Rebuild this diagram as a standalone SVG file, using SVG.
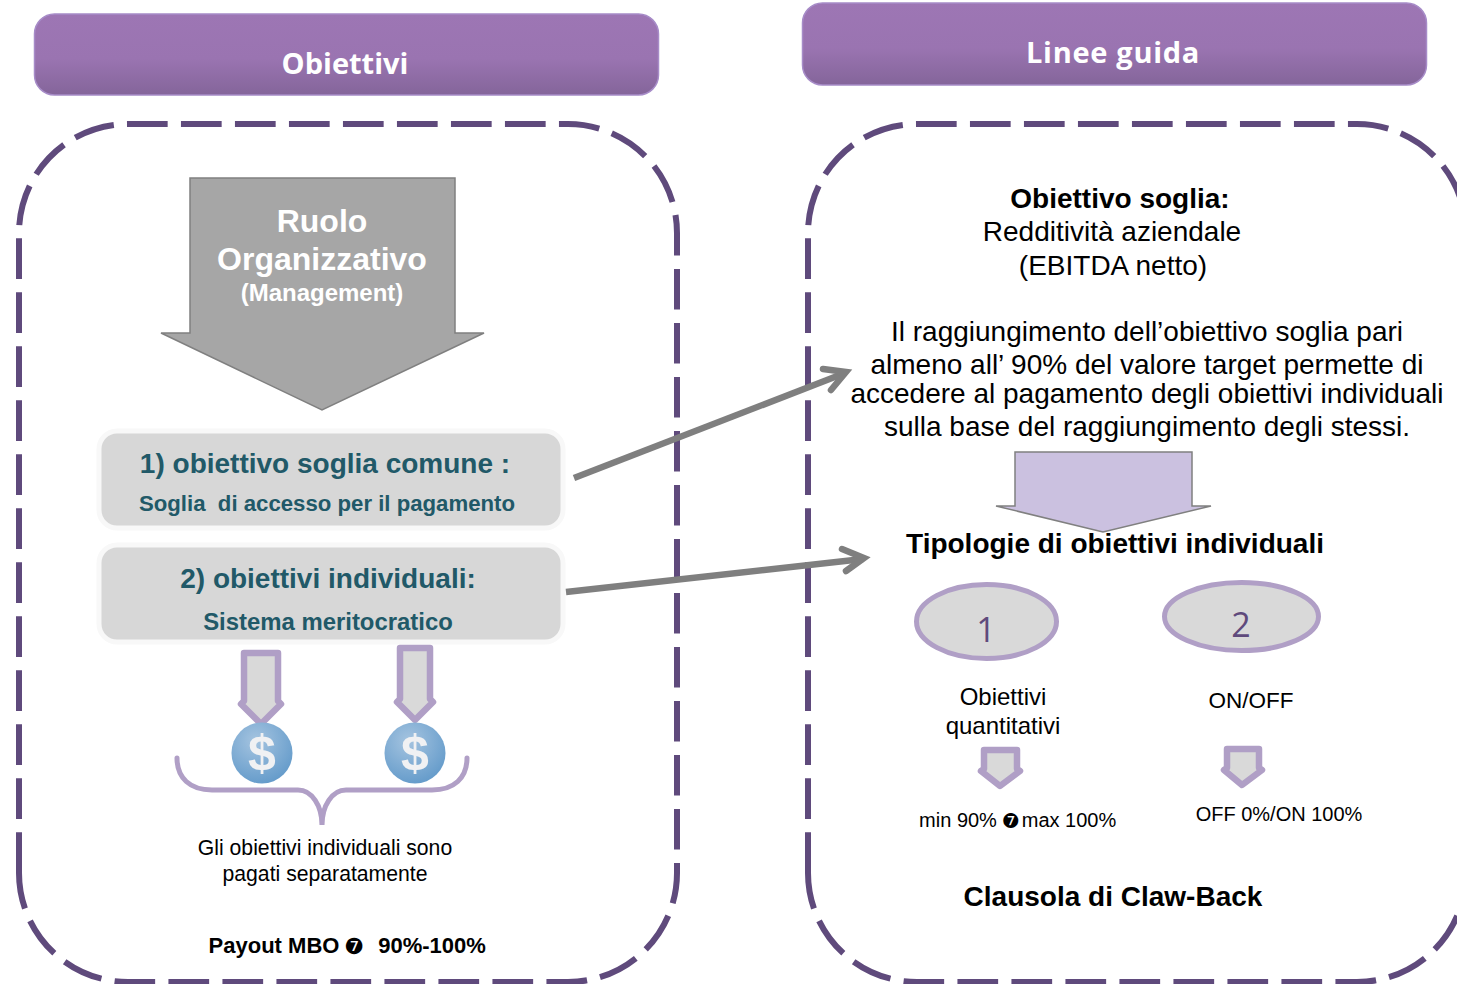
<svg xmlns="http://www.w3.org/2000/svg" width="1457" height="984" viewBox="0 0 1457 984">
<style>
text{font-family:"Liberation Sans",Arial,sans-serif;text-anchor:middle}
.hd{font-family:"Open Sans","DejaVu Sans",sans-serif;font-weight:700;font-size:29px;fill:#fff}
.dash{fill:none;stroke:#5f4a7c;stroke-width:6;stroke-dasharray:40.700 13.300}
.wh{fill:#fff;font-weight:700}
.card{fill:#d7d7d7;stroke:#f8f8f8;stroke-width:5}
.teal{fill:#215968;font-weight:700}
.pa{fill:#d9d9d9;stroke:#b09fc6;stroke-width:6.500;stroke-linejoin:round}
.k{fill:#000}
.b{font-weight:700}
.conn{fill:none;stroke:#7f7f7f;stroke-width:6.500}
.head{stroke-linecap:round}
.br{fill:none;stroke:#b09fc6;stroke-width:5;stroke-linecap:round}
.dl{fill:#f0f1f3;font-family:"Liberation Sans",sans-serif;font-weight:700;font-size:50px}
.n{font-family:"Open Sans","Noto Sans",sans-serif;font-size:34px;fill:#5f4a7c}
.ding{font-family:"DejaVu Sans",sans-serif}
</style>
<defs>
<linearGradient id="hg" x1="0" y1="0" x2="0" y2="1"><stop offset="0" stop-color="#9d76b4"/><stop offset=".55" stop-color="#9a74b1"/><stop offset="1" stop-color="#84659a"/></linearGradient>
<radialGradient id="coin" cx=".4" cy=".3" r=".8"><stop offset="0" stop-color="#a5c4e0"/><stop offset="1" stop-color="#5e97c8"/></radialGradient>
</defs>

<g id="obiettivi-header">
<rect x="34.500" y="14" width="624" height="81" rx="20" fill="url(#hg)" stroke="#a78cc8" stroke-width="1.500"/>
<text class="hd" x="345" y="73.500">Obiettivi</text>
</g>
<g id="linee-guida-header">
<rect x="802.500" y="3" width="624" height="82" rx="20" fill="url(#hg)" stroke="#a78cc8" stroke-width="1.500"/>
<text class="hd" x="1113" y="62.500" letter-spacing="0.700">Linee guida</text>
</g>

<g id="obiettivi-frame"><path class="dash" d="M19 873V233A109 109 0 0 1 128 124H568A109 109 0 0 1 677 233V873A109 109 0 0 1 568 982H128A109 109 0 0 1 19 873Z"/></g>
<g id="linee-guida-frame"><path class="dash" d="M808 873V233A109 109 0 0 1 917 124H1357A109 109 0 0 1 1466 233V873A109 109 0 0 1 1357 982H917A109 109 0 0 1 808 873Z"/></g>

<g id="ruolo">
<path d="M190 178H455V333H484L322 410L161 333H190Z" fill="#a6a6a6" stroke="#808080" stroke-width="1.500"/>
<text class="wh" x="322" y="232" font-size="32">Ruolo</text>
<text class="wh" x="322" y="270" font-size="32">Organizzativo</text>
<text class="wh" x="322" y="301" font-size="24">(Management)</text>
</g>

<g id="card-1">
<rect class="card" x="99" y="431" width="464" height="97" rx="18"/>
<text class="teal" x="325" y="473" font-size="28">1) obiettivo soglia comune :</text>
<text class="teal" x="327" y="511" font-size="22.200" xml:space="preserve">Soglia  di accesso per il pagamento</text>
</g>
<g id="card-2">
<rect class="card" x="99" y="545" width="464" height="97" rx="18"/>
<text class="teal" x="328" y="588" font-size="28">2) obiettivi individuali:</text>
<text class="teal" x="328" y="630" font-size="23.900">Sistema meritocratico</text>
</g>

<g id="down-arrow-a"><path class="pa" d="M244 653H278V701L281 704L261 724L241 704L244 701Z"/></g>
<g id="down-arrow-b"><path class="pa" d="M400 648H430V699L433 702L415 720L397 702L400 699Z"/></g>
<g id="coin-a"><circle cx="262" cy="753" r="30.500" fill="url(#coin)"/><text class="dl" x="262" y="770">$</text></g>
<g id="coin-b"><circle cx="415" cy="753" r="30.500" fill="url(#coin)"/><text class="dl" x="415" y="770">$</text></g>
<g id="brace"><path class="br" d="M177 758C177 778 190 790 212 790H298C312 790 322 806 322 825C322 806 332 790 346 790H432C454 790 467 778 467 758"/></g>
<g id="note">
<text x="325" y="855" font-size="21.200" class="k">Gli obiettivi individuali sono</text>
<text x="325" y="881" font-size="21.200" class="k">pagati separatamente</text>
</g>
<g id="payout">
<text class="b k" x="274" y="953" font-size="22">Payout MBO</text>
<text class="ding k" x="354" y="954" font-size="22">❼</text>
<text class="b k" x="432" y="953" font-size="22">90%-100%</text>
</g>

<g id="soglia">
<text class="b k" x="1120" y="208" font-size="28">Obiettivo soglia:</text>
<text class="k" x="1112" y="241" font-size="28">Redditività aziendale</text>
<text class="k" x="1113" y="275" font-size="28">(EBITDA netto)</text>
<text class="k" x="1147" y="341" font-size="28">Il raggiungimento dell’obiettivo soglia pari</text>
<text class="k" x="1147" y="374" font-size="28">almeno all’ 90% del valore target permette di</text>
<text class="k" x="1147" y="403" font-size="28">accedere al pagamento degli obiettivi individuali</text>
<text class="k" x="1147" y="436" font-size="28">sulla base del raggiungimento degli stessi.</text>
</g>
<g id="flow-arrow"><path d="M1015 452H1192V506H1211L1103 532L996 506H1015Z" fill="#cbc1e0" stroke="#808080" stroke-width="1.500"/></g>
<g id="tipologie"><text class="b k" x="1115" y="553" font-size="28">Tipologie di obiettivi individuali</text></g>

<g id="tipo-1">
<ellipse cx="986.500" cy="621.500" rx="70" ry="37" fill="#d9d9d9" stroke="#b09fc6" stroke-width="5"/>
<text class="n" x="986" y="642">1</text>
<text class="k" x="1003" y="705" font-size="24">Obiettivi</text>
<text class="k" x="1003" y="734" font-size="24">quantitativi</text>
<path class="pa" d="M984 750H1017V769L1020 771L1000 786L981 771L984 769Z"/>
<text class="k" x="958" y="827" font-size="20">min 90%</text>
<text class="ding k" x="1011" y="828" font-size="20">❼</text>
<text class="k" x="1069" y="827" font-size="20">max 100%</text>
</g>
<g id="tipo-2">
<ellipse cx="1241.500" cy="616.500" rx="77" ry="34" fill="#d9d9d9" stroke="#b09fc6" stroke-width="5"/>
<text class="n" x="1241" y="637">2</text>
<text class="k" x="1251" y="708" font-size="22.500">ON/OFF</text>
<path class="pa" d="M1227 749H1259V768L1262 770L1242 785L1224 770L1227 768Z"/>
<text class="k" x="1279" y="821" font-size="20">OFF 0%/ON 100%</text>
</g>
<g id="clausola"><text class="b k" x="1113" y="906" font-size="28">Clausola di Claw-Back</text></g>

<g id="connectors">
<path class="conn" d="M574 478L845 373"/>
<path class="conn head" d="M823 369L846 372L831 390"/>
<path class="conn" d="M566 592L863 559"/>
<path class="conn head" d="M842 549L864 558L846 571"/>
</g>
</svg>
